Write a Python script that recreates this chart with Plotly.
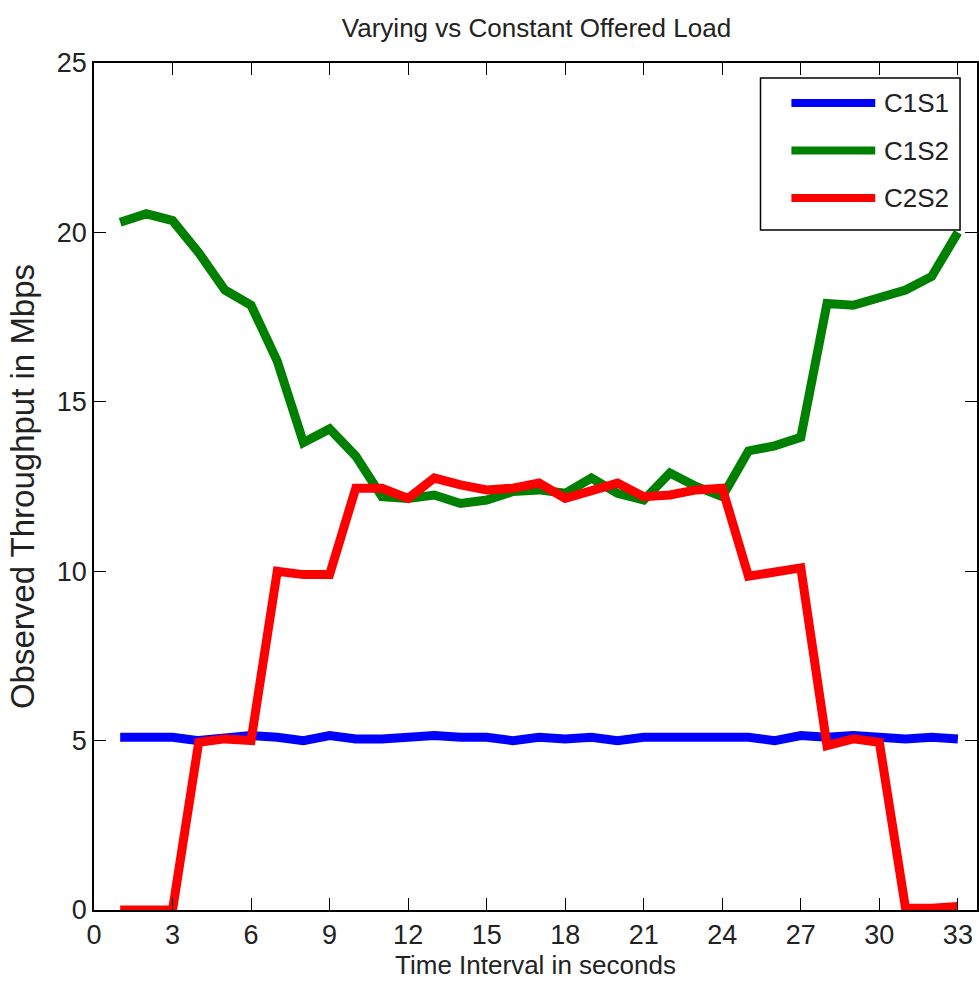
import plotly.graph_objects as go

# Time intervals (seconds)
time_s = list(range(1, 34))

# Observed throughput (Mbps) per client/server pair
c1s1 = [5.1, 5.1, 5.1, 5.0, 5.1, 5.15, 5.1, 5.0, 5.15, 5.05, 5.05,
        5.1, 5.15, 5.1, 5.1, 5.0, 5.1, 5.05, 5.1, 5.0, 5.1, 5.1,
        5.1, 5.1, 5.1, 5.0, 5.15, 5.1, 5.15, 5.1, 5.05, 5.1, 5.05]
c1s2 = [20.3, 20.55, 20.35, 19.4, 18.3, 17.85, 16.2, 13.8, 14.2, 13.4, 12.2,
        12.15, 12.25, 12.0, 12.1, 12.35, 12.4, 12.3, 12.75, 12.3, 12.1, 12.9,
        12.5, 12.2, 13.55, 13.7, 13.95, 17.9, 17.85, 18.05, 18.3, 18.7, 20.0]
c2s2 = [0.0, 0.0, 0.0, 4.95, 5.05, 5.0, 10.0, 9.9, 9.9, 12.45, 12.45,
        12.15, 12.75, 12.55, 12.4, 12.45, 12.6, 12.15, 12.4, 12.6, 12.2, 12.25,
        12.4, 12.45, 9.85, 10.0, 10.1, 4.85, 5.05, 4.95, 0.05, 0.05, 0.1]

series_names = ["C1S1", "C1S2", "C2S2"]
series_values = [c1s1, c1s2, c2s2]
series_colors = ["#0000ff", "#008000", "#ff0000"]

x_ticks = list(range(0, 34, 3))
y_ticks = list(range(0, 26, 5))

FONT = "Liberation Sans, Arial, sans-serif"
TEXT_COL = "#222"
LINE_W = 9

fig = go.Figure()
for name, vals, col in zip(series_names, series_values, series_colors):
    fig.add_trace(go.Scatter(
        x=time_s, y=vals, mode="lines", name=name,
        line=dict(color=col, width=LINE_W),
        showlegend=False,
    ))

# Boxed legend in the upper-right corner of the axes
W, H = 979, 996
L, R, T, B = 94, 0, 63, 86
pw, ph = W - L - R, H - T - B


def px_x(px):
    return (px - L) / pw


def px_y(py):
    return (H - B - py) / ph


shapes = [dict(type="rect", xref="paper", yref="paper",
               x0=px_x(762), x1=px_x(962), y0=px_y(230), y1=px_y(78),
               line=dict(color="black", width=1.5), fillcolor="white", layer="above")]
annotations = []
for i, (name, col) in enumerate(zip(series_names, series_colors)):
    yy = px_y(103 + i * 47.5)
    shapes.append(dict(type="line", xref="paper", yref="paper",
                       x0=px_x(793), x1=px_x(877), y0=yy, y1=yy,
                       line=dict(color=col, width=LINE_W - 1), layer="above"))
    annotations.append(dict(xref="paper", yref="paper", x=px_x(884), y=yy,
                            text=name, showarrow=False, xanchor="left", yanchor="middle",
                            font=dict(family=FONT, size=26, color=TEXT_COL)))

axis_common = dict(
    showline=True, linecolor="black", linewidth=1.5, mirror="ticks",
    ticks="inside", ticklen=12, tickwidth=1.2, tickcolor="black",
    showgrid=False, zeroline=False,
    tickfont=dict(family=FONT, size=27, color=TEXT_COL),
)

fig.update_layout(
    width=W, height=H,
    margin=dict(l=L, r=R, t=T, b=B),
    paper_bgcolor="white", plot_bgcolor="white",
    title=dict(text="Varying vs Constant Offered Load", x=0.548, xanchor="center",
               y=1 - 28 / H, yanchor="middle",
               font=dict(family=FONT, size=26, color=TEXT_COL)),
    xaxis=dict(range=[0, 33.73], tickvals=x_ticks, **axis_common,
               title=dict(text="Time Interval in seconds", standoff=6,
                          font=dict(family=FONT, size=26, color=TEXT_COL))),
    yaxis=dict(range=[0, 25], tickvals=y_ticks, **axis_common,
               title=dict(text="Observed Throughput in Mbps", standoff=12,
                          font=dict(family=FONT, size=33, color=TEXT_COL))),
    shapes=shapes,
    annotations=annotations,
)

fig.write_html("out.html")
